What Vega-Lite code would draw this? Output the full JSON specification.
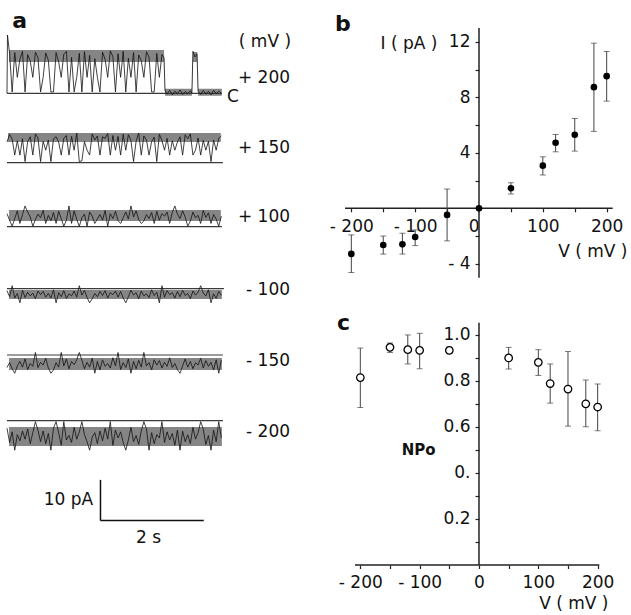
{
  "$schema": "https://vega.github.io/schema/vega-lite/v6.json",
  "padding": 0,
  "background": "white",
  "bounds": "flush",
  "spacing": 0,
  "config": {
    "font": "DejaVu Sans",
    "view": {"stroke": null},
    "concat": {"spacing": 0},
    "axis": {"labelFont": "DejaVu Sans", "titleFont": "DejaVu Sans", "labelFontSize": 17, "titleFontSize": 17, "titleFontWeight": "normal", "labelColor": "#111", "titleColor": "#111", "tickColor": "#222", "tickWidth": 1.2, "grid": false, "domain": false, "labelOverlap": false, "labelFlush": false, "tickCount": 30},
    "text": {"font": "DejaVu Sans", "fontSize": 17, "color": "#111"}
  },
  "datasets": {
    "base": [
      {"k": "+200", "t0": 0, "t1": 4.16, "y": -22.92},
      {"k": "+150", "t0": 0, "t1": 4.18, "y": -39.98},
      {"k": "+100", "t0": 0, "t1": 4.16, "y": -55.7},
      {"k": "-100", "t0": 0, "t1": 4.2, "y": -70.93},
      {"k": "-150", "t0": 0, "t1": 4.18, "y": -87.22},
      {"k": "-200", "t0": 0, "t1": 4.18, "y": -103.36}
    ],
    "band": [
      {"k": "+200", "t": 0.04, "top": -12.29, "bot": -15.23},
      {"k": "+200", "t": 3.04, "top": -12.29, "bot": -15.23},
      {"k": "+200", "t": 3.06, "top": -21.8, "bot": -23.5},
      {"k": "+200", "t": 3.58, "top": -21.8, "bot": -23.5},
      {"k": "+200", "t": 3.6, "top": -12.78, "bot": -15.23},
      {"k": "+200", "t": 3.68, "top": -12.78, "bot": -15.23},
      {"k": "+200", "t": 3.7, "top": -21.8, "bot": -23.5},
      {"k": "+200", "t": 4.16, "top": -21.8, "bot": -23.5},
      {"k": "+150", "t": 0.02, "top": -32.68, "bot": -34.89},
      {"k": "+150", "t": 4.14, "top": -32.68, "bot": -34.89},
      {"k": "+100", "t": 0.04, "top": -51.6, "bot": -54.3},
      {"k": "+100", "t": 4.14, "top": -51.6, "bot": -54.3},
      {"k": "-100", "t": 0.04, "top": -71.25, "bot": -73.46},
      {"k": "-100", "t": 4.16, "top": -71.25, "bot": -73.46},
      {"k": "-150", "t": 0.04, "top": -87.96, "bot": -90.91},
      {"k": "-150", "t": 4.16, "top": -87.96, "bot": -90.91},
      {"k": "-200", "t": 0.04, "top": -104.91, "bot": -109.58},
      {"k": "-200", "t": 4.16, "top": -104.91, "bot": -109.58}
    ],
    "trace": [
      {"k":"+200","t":0.00,"y":-22.9},{"k":"+200","t":0.01,"y":-8.6},{"k":"+200","t":0.05,"y":-13.2},{"k":"+200","t":0.10,"y":-22.6},{"k":"+200","t":0.15,"y":-12.9},{"k":"+200","t":0.20,"y":-19.0},{"k":"+200","t":0.25,"y":-14.5},{"k":"+200","t":0.30,"y":-12.6},{"k":"+200","t":0.35,"y":-22.6},{"k":"+200","t":0.40,"y":-13.4},{"k":"+200","t":0.45,"y":-15.0},{"k":"+200","t":0.50,"y":-19.0},{"k":"+200","t":0.55,"y":-12.8},{"k":"+200","t":0.60,"y":-14.2},{"k":"+200","t":0.65,"y":-22.6},{"k":"+200","t":0.70,"y":-19.0},{"k":"+200","t":0.75,"y":-13.0},{"k":"+200","t":0.80,"y":-14.8},{"k":"+200","t":0.85,"y":-22.6},{"k":"+200","t":0.90,"y":-22.6},{"k":"+200","t":0.95,"y":-12.9},{"k":"+200","t":1.00,"y":-15.2},{"k":"+200","t":1.05,"y":-19.0},{"k":"+200","t":1.10,"y":-13.3},{"k":"+200","t":1.15,"y":-12.6},{"k":"+200","t":1.20,"y":-22.6},{"k":"+200","t":1.25,"y":-14.1},{"k":"+200","t":1.30,"y":-22.6},{"k":"+200","t":1.35,"y":-19.0},{"k":"+200","t":1.40,"y":-13.1},{"k":"+200","t":1.45,"y":-22.6},{"k":"+200","t":1.50,"y":-12.7},{"k":"+200","t":1.55,"y":-19.0},{"k":"+200","t":1.60,"y":-13.6},{"k":"+200","t":1.65,"y":-22.6},{"k":"+200","t":1.70,"y":-14.4},{"k":"+200","t":1.75,"y":-19.0},{"k":"+200","t":1.80,"y":-22.6},{"k":"+200","t":1.85,"y":-12.8},{"k":"+200","t":1.90,"y":-14.6},{"k":"+200","t":1.95,"y":-19.0},{"k":"+200","t":2.00,"y":-12.5},{"k":"+200","t":2.05,"y":-13.9},{"k":"+200","t":2.10,"y":-22.6},{"k":"+200","t":2.15,"y":-13.2},{"k":"+200","t":2.20,"y":-19.0},{"k":"+200","t":2.25,"y":-12.6},{"k":"+200","t":2.30,"y":-22.6},{"k":"+200","t":2.35,"y":-14.3},{"k":"+200","t":2.40,"y":-19.0},{"k":"+200","t":2.45,"y":-12.9},{"k":"+200","t":2.50,"y":-22.6},{"k":"+200","t":2.55,"y":-13.5},{"k":"+200","t":2.60,"y":-14.9},{"k":"+200","t":2.65,"y":-19.0},{"k":"+200","t":2.70,"y":-12.7},{"k":"+200","t":2.75,"y":-14.0},{"k":"+200","t":2.80,"y":-22.6},{"k":"+200","t":2.85,"y":-22.6},{"k":"+200","t":2.90,"y":-13.1},{"k":"+200","t":2.95,"y":-19.0},{"k":"+200","t":3.00,"y":-13.4},{"k":"+200","t":3.04,"y":-14.2},{"k":"+200","t":3.06,"y":-22.3},{"k":"+200","t":3.10,"y":-23.1},{"k":"+200","t":3.15,"y":-22.2},{"k":"+200","t":3.20,"y":-23.3},{"k":"+200","t":3.25,"y":-22.4},{"k":"+200","t":3.30,"y":-23.0},{"k":"+200","t":3.35,"y":-22.1},{"k":"+200","t":3.40,"y":-23.2},{"k":"+200","t":3.45,"y":-22.5},{"k":"+200","t":3.50,"y":-23.0},{"k":"+200","t":3.55,"y":-22.3},{"k":"+200","t":3.58,"y":-22.9},{"k":"+200","t":3.60,"y":-12.6},{"k":"+200","t":3.64,"y":-14.0},{"k":"+200","t":3.68,"y":-13.2},{"k":"+200","t":3.70,"y":-22.4},{"k":"+200","t":3.75,"y":-23.2},{"k":"+200","t":3.80,"y":-22.2},{"k":"+200","t":3.85,"y":-23.1},{"k":"+200","t":3.90,"y":-22.4},{"k":"+200","t":3.95,"y":-23.3},{"k":"+200","t":4.00,"y":-22.2},{"k":"+200","t":4.05,"y":-23.0},{"k":"+200","t":4.10,"y":-22.4},{"k":"+200","t":4.15,"y":-22.9},
      {"k":"+150","t":0.00,"y":-34.9},{"k":"+150","t":0.05,"y":-33.0},{"k":"+150","t":0.10,"y":-34.2},{"k":"+150","t":0.15,"y":-38.1},{"k":"+150","t":0.20,"y":-34.6},{"k":"+150","t":0.25,"y":-38.1},{"k":"+150","t":0.30,"y":-34.1},{"k":"+150","t":0.35,"y":-39.7},{"k":"+150","t":0.40,"y":-34.8},{"k":"+150","t":0.45,"y":-33.6},{"k":"+150","t":0.50,"y":-38.1},{"k":"+150","t":0.55,"y":-32.9},{"k":"+150","t":0.60,"y":-33.9},{"k":"+150","t":0.65,"y":-39.7},{"k":"+150","t":0.70,"y":-34.7},{"k":"+150","t":0.75,"y":-36.9},{"k":"+150","t":0.80,"y":-34.4},{"k":"+150","t":0.85,"y":-39.7},{"k":"+150","t":0.90,"y":-34.1},{"k":"+150","t":0.95,"y":-33.6},{"k":"+150","t":1.00,"y":-34.9},{"k":"+150","t":1.05,"y":-38.1},{"k":"+150","t":1.10,"y":-34.0},{"k":"+150","t":1.15,"y":-33.3},{"k":"+150","t":1.20,"y":-38.1},{"k":"+150","t":1.25,"y":-33.5},{"k":"+150","t":1.30,"y":-36.9},{"k":"+150","t":1.35,"y":-32.7},{"k":"+150","t":1.40,"y":-39.7},{"k":"+150","t":1.45,"y":-39.5},{"k":"+150","t":1.50,"y":-34.8},{"k":"+150","t":1.55,"y":-36.9},{"k":"+150","t":1.60,"y":-38.1},{"k":"+150","t":1.65,"y":-32.9},{"k":"+150","t":1.70,"y":-34.4},{"k":"+150","t":1.75,"y":-33.4},{"k":"+150","t":1.80,"y":-38.1},{"k":"+150","t":1.85,"y":-33.6},{"k":"+150","t":1.90,"y":-34.0},{"k":"+150","t":1.95,"y":-32.8},{"k":"+150","t":2.00,"y":-38.1},{"k":"+150","t":2.05,"y":-33.3},{"k":"+150","t":2.10,"y":-36.9},{"k":"+150","t":2.15,"y":-33.5},{"k":"+150","t":2.20,"y":-38.1},{"k":"+150","t":2.25,"y":-33.0},{"k":"+150","t":2.30,"y":-36.9},{"k":"+150","t":2.35,"y":-33.1},{"k":"+150","t":2.40,"y":-34.5},{"k":"+150","t":2.45,"y":-39.7},{"k":"+150","t":2.50,"y":-34.7},{"k":"+150","t":2.55,"y":-32.7},{"k":"+150","t":2.60,"y":-38.1},{"k":"+150","t":2.65,"y":-33.4},{"k":"+150","t":2.70,"y":-34.4},{"k":"+150","t":2.75,"y":-38.1},{"k":"+150","t":2.80,"y":-34.8},{"k":"+150","t":2.85,"y":-33.7},{"k":"+150","t":2.90,"y":-39.7},{"k":"+150","t":2.95,"y":-33.0},{"k":"+150","t":3.00,"y":-34.5},{"k":"+150","t":3.05,"y":-36.9},{"k":"+150","t":3.10,"y":-34.0},{"k":"+150","t":3.15,"y":-38.1},{"k":"+150","t":3.20,"y":-34.6},{"k":"+150","t":3.25,"y":-36.9},{"k":"+150","t":3.30,"y":-34.9},{"k":"+150","t":3.35,"y":-33.6},{"k":"+150","t":3.40,"y":-38.1},{"k":"+150","t":3.45,"y":-33.1},{"k":"+150","t":3.50,"y":-34.1},{"k":"+150","t":3.55,"y":-32.9},{"k":"+150","t":3.60,"y":-38.1},{"k":"+150","t":3.65,"y":-36.9},{"k":"+150","t":3.70,"y":-33.9},{"k":"+150","t":3.75,"y":-38.1},{"k":"+150","t":3.80,"y":-34.5},{"k":"+150","t":3.85,"y":-36.9},{"k":"+150","t":3.90,"y":-34.7},{"k":"+150","t":3.95,"y":-39.7},{"k":"+150","t":4.00,"y":-34.4},{"k":"+150","t":4.05,"y":-36.9},{"k":"+150","t":4.10,"y":-34.0},{"k":"+150","t":4.15,"y":-33.4},
      {"k":"+100","t":0.00,"y":-52.5},{"k":"+100","t":0.05,"y":-54.1},{"k":"+100","t":0.10,"y":-55.6},{"k":"+100","t":0.15,"y":-53.7},{"k":"+100","t":0.20,"y":-51.8},{"k":"+100","t":0.25,"y":-54.9},{"k":"+100","t":0.30,"y":-52.7},{"k":"+100","t":0.35,"y":-50.6},{"k":"+100","t":0.40,"y":-52.1},{"k":"+100","t":0.45,"y":-53.3},{"k":"+100","t":0.50,"y":-55.6},{"k":"+100","t":0.55,"y":-53.9},{"k":"+100","t":0.60,"y":-52.6},{"k":"+100","t":0.65,"y":-53.5},{"k":"+100","t":0.70,"y":-51.7},{"k":"+100","t":0.75,"y":-54.9},{"k":"+100","t":0.80,"y":-52.9},{"k":"+100","t":0.85,"y":-54.2},{"k":"+100","t":0.90,"y":-52.2},{"k":"+100","t":0.95,"y":-54.9},{"k":"+100","t":1.00,"y":-51.9},{"k":"+100","t":1.05,"y":-53.7},{"k":"+100","t":1.10,"y":-55.6},{"k":"+100","t":1.15,"y":-54.1},{"k":"+100","t":1.20,"y":-50.6},{"k":"+100","t":1.25,"y":-54.9},{"k":"+100","t":1.30,"y":-51.8},{"k":"+100","t":1.35,"y":-53.9},{"k":"+100","t":1.40,"y":-55.6},{"k":"+100","t":1.45,"y":-53.5},{"k":"+100","t":1.50,"y":-52.6},{"k":"+100","t":1.55,"y":-55.6},{"k":"+100","t":1.60,"y":-52.1},{"k":"+100","t":1.65,"y":-53.1},{"k":"+100","t":1.70,"y":-54.9},{"k":"+100","t":1.75,"y":-53.8},{"k":"+100","t":1.80,"y":-52.7},{"k":"+100","t":1.85,"y":-54.1},{"k":"+100","t":1.90,"y":-51.7},{"k":"+100","t":1.95,"y":-55.6},{"k":"+100","t":2.00,"y":-52.5},{"k":"+100","t":2.05,"y":-53.7},{"k":"+100","t":2.10,"y":-51.9},{"k":"+100","t":2.15,"y":-54.2},{"k":"+100","t":2.20,"y":-54.9},{"k":"+100","t":2.25,"y":-53.5},{"k":"+100","t":2.30,"y":-52.1},{"k":"+100","t":2.35,"y":-53.8},{"k":"+100","t":2.40,"y":-50.6},{"k":"+100","t":2.45,"y":-53.3},{"k":"+100","t":2.50,"y":-51.8},{"k":"+100","t":2.55,"y":-53.9},{"k":"+100","t":2.60,"y":-54.9},{"k":"+100","t":2.65,"y":-54.3},{"k":"+100","t":2.70,"y":-52.7},{"k":"+100","t":2.75,"y":-53.7},{"k":"+100","t":2.80,"y":-52.2},{"k":"+100","t":2.85,"y":-54.9},{"k":"+100","t":2.90,"y":-51.9},{"k":"+100","t":2.95,"y":-54.1},{"k":"+100","t":3.00,"y":-52.5},{"k":"+100","t":3.05,"y":-53.1},{"k":"+100","t":3.10,"y":-52.1},{"k":"+100","t":3.15,"y":-54.9},{"k":"+100","t":3.20,"y":-52.2},{"k":"+100","t":3.25,"y":-50.6},{"k":"+100","t":3.30,"y":-52.6},{"k":"+100","t":3.35,"y":-53.7},{"k":"+100","t":3.40,"y":-51.8},{"k":"+100","t":3.45,"y":-53.3},{"k":"+100","t":3.50,"y":-55.6},{"k":"+100","t":3.55,"y":-54.3},{"k":"+100","t":3.60,"y":-52.1},{"k":"+100","t":3.65,"y":-53.5},{"k":"+100","t":3.70,"y":-52.9},{"k":"+100","t":3.75,"y":-54.9},{"k":"+100","t":3.80,"y":-51.7},{"k":"+100","t":3.85,"y":-53.4},{"k":"+100","t":3.90,"y":-52.3},{"k":"+100","t":3.95,"y":-54.9},{"k":"+100","t":4.00,"y":-52.7},{"k":"+100","t":4.05,"y":-53.8},{"k":"+100","t":4.10,"y":-55.6},{"k":"+100","t":4.15,"y":-53.1},
      {"k":"-100","t":0.00,"y":-71.4},{"k":"-100","t":0.05,"y":-72.9},{"k":"-100","t":0.10,"y":-70.2},{"k":"-100","t":0.15,"y":-73.2},{"k":"-100","t":0.20,"y":-72.1},{"k":"-100","t":0.25,"y":-74.4},{"k":"-100","t":0.30,"y":-71.3},{"k":"-100","t":0.35,"y":-73.1},{"k":"-100","t":0.40,"y":-71.8},{"k":"-100","t":0.45,"y":-72.7},{"k":"-100","t":0.50,"y":-72.0},{"k":"-100","t":0.55,"y":-73.4},{"k":"-100","t":0.60,"y":-71.5},{"k":"-100","t":0.65,"y":-72.4},{"k":"-100","t":0.70,"y":-71.6},{"k":"-100","t":0.75,"y":-73.0},{"k":"-100","t":0.80,"y":-72.1},{"k":"-100","t":0.85,"y":-73.2},{"k":"-100","t":0.90,"y":-71.2},{"k":"-100","t":0.95,"y":-74.4},{"k":"-100","t":1.00,"y":-71.9},{"k":"-100","t":1.05,"y":-72.9},{"k":"-100","t":1.10,"y":-71.4},{"k":"-100","t":1.15,"y":-73.3},{"k":"-100","t":1.20,"y":-72.2},{"k":"-100","t":1.25,"y":-72.7},{"k":"-100","t":1.30,"y":-71.5},{"k":"-100","t":1.35,"y":-73.0},{"k":"-100","t":1.40,"y":-70.2},{"k":"-100","t":1.45,"y":-72.5},{"k":"-100","t":1.50,"y":-71.3},{"k":"-100","t":1.55,"y":-73.1},{"k":"-100","t":1.60,"y":-74.4},{"k":"-100","t":1.65,"y":-73.4},{"k":"-100","t":1.70,"y":-72.1},{"k":"-100","t":1.75,"y":-72.9},{"k":"-100","t":1.80,"y":-71.6},{"k":"-100","t":1.85,"y":-72.6},{"k":"-100","t":1.90,"y":-71.4},{"k":"-100","t":1.95,"y":-73.2},{"k":"-100","t":2.00,"y":-71.9},{"k":"-100","t":2.05,"y":-72.4},{"k":"-100","t":2.10,"y":-71.5},{"k":"-100","t":2.15,"y":-73.0},{"k":"-100","t":2.20,"y":-71.6},{"k":"-100","t":2.25,"y":-73.2},{"k":"-100","t":2.30,"y":-74.4},{"k":"-100","t":2.35,"y":-72.9},{"k":"-100","t":2.40,"y":-71.3},{"k":"-100","t":2.45,"y":-72.5},{"k":"-100","t":2.50,"y":-71.9},{"k":"-100","t":2.55,"y":-73.4},{"k":"-100","t":2.60,"y":-71.5},{"k":"-100","t":2.65,"y":-72.7},{"k":"-100","t":2.70,"y":-72.2},{"k":"-100","t":2.75,"y":-73.1},{"k":"-100","t":2.80,"y":-71.2},{"k":"-100","t":2.85,"y":-72.6},{"k":"-100","t":2.90,"y":-71.8},{"k":"-100","t":2.95,"y":-74.4},{"k":"-100","t":3.00,"y":-70.2},{"k":"-100","t":3.05,"y":-73.0},{"k":"-100","t":3.10,"y":-71.4},{"k":"-100","t":3.15,"y":-72.4},{"k":"-100","t":3.20,"y":-71.9},{"k":"-100","t":3.25,"y":-73.2},{"k":"-100","t":3.30,"y":-71.6},{"k":"-100","t":3.35,"y":-72.9},{"k":"-100","t":3.40,"y":-71.3},{"k":"-100","t":3.45,"y":-72.6},{"k":"-100","t":3.50,"y":-72.1},{"k":"-100","t":3.55,"y":-73.4},{"k":"-100","t":3.60,"y":-71.5},{"k":"-100","t":3.65,"y":-72.5},{"k":"-100","t":3.70,"y":-71.8},{"k":"-100","t":3.75,"y":-70.2},{"k":"-100","t":3.80,"y":-72.0},{"k":"-100","t":3.85,"y":-72.7},{"k":"-100","t":3.90,"y":-71.2},{"k":"-100","t":3.95,"y":-74.4},{"k":"-100","t":4.00,"y":-72.2},{"k":"-100","t":4.05,"y":-73.3},{"k":"-100","t":4.10,"y":-71.6},{"k":"-100","t":4.15,"y":-72.6},
      {"k":"-150","t":0.00,"y":-90.3},{"k":"-150","t":0.05,"y":-89.1},{"k":"-150","t":0.10,"y":-90.6},{"k":"-150","t":0.15,"y":-91.7},{"k":"-150","t":0.20,"y":-89.9},{"k":"-150","t":0.25,"y":-88.8},{"k":"-150","t":0.30,"y":-90.2},{"k":"-150","t":0.35,"y":-88.2},{"k":"-150","t":0.40,"y":-90.8},{"k":"-150","t":0.45,"y":-89.3},{"k":"-150","t":0.50,"y":-90.0},{"k":"-150","t":0.55,"y":-86.6},{"k":"-150","t":0.60,"y":-90.3},{"k":"-150","t":0.65,"y":-89.0},{"k":"-150","t":0.70,"y":-89.7},{"k":"-150","t":0.75,"y":-88.0},{"k":"-150","t":0.80,"y":-90.4},{"k":"-150","t":0.85,"y":-91.7},{"k":"-150","t":0.90,"y":-90.9},{"k":"-150","t":0.95,"y":-89.1},{"k":"-150","t":1.00,"y":-90.2},{"k":"-150","t":1.05,"y":-86.6},{"k":"-150","t":1.10,"y":-89.9},{"k":"-150","t":1.15,"y":-88.2},{"k":"-150","t":1.20,"y":-90.6},{"k":"-150","t":1.25,"y":-88.8},{"k":"-150","t":1.30,"y":-89.6},{"k":"-150","t":1.35,"y":-88.4},{"k":"-150","t":1.40,"y":-86.6},{"k":"-150","t":1.45,"y":-88.5},{"k":"-150","t":1.50,"y":-90.6},{"k":"-150","t":1.55,"y":-89.0},{"k":"-150","t":1.60,"y":-90.2},{"k":"-150","t":1.65,"y":-88.0},{"k":"-150","t":1.70,"y":-91.7},{"k":"-150","t":1.75,"y":-88.8},{"k":"-150","t":1.80,"y":-90.9},{"k":"-150","t":1.85,"y":-88.4},{"k":"-150","t":1.90,"y":-90.0},{"k":"-150","t":1.95,"y":-89.3},{"k":"-150","t":2.00,"y":-90.4},{"k":"-150","t":2.05,"y":-87.9},{"k":"-150","t":2.10,"y":-89.9},{"k":"-150","t":2.15,"y":-86.6},{"k":"-150","t":2.20,"y":-90.8},{"k":"-150","t":2.25,"y":-89.1},{"k":"-150","t":2.30,"y":-90.3},{"k":"-150","t":2.35,"y":-88.2},{"k":"-150","t":2.40,"y":-91.7},{"k":"-150","t":2.45,"y":-88.8},{"k":"-150","t":2.50,"y":-90.6},{"k":"-150","t":2.55,"y":-88.5},{"k":"-150","t":2.60,"y":-90.2},{"k":"-150","t":2.65,"y":-86.6},{"k":"-150","t":2.70,"y":-89.9},{"k":"-150","t":2.75,"y":-89.1},{"k":"-150","t":2.80,"y":-90.9},{"k":"-150","t":2.85,"y":-88.4},{"k":"-150","t":2.90,"y":-89.7},{"k":"-150","t":2.95,"y":-88.6},{"k":"-150","t":3.00,"y":-90.4},{"k":"-150","t":3.05,"y":-89.0},{"k":"-150","t":3.10,"y":-90.0},{"k":"-150","t":3.15,"y":-87.9},{"k":"-150","t":3.20,"y":-90.3},{"k":"-150","t":3.25,"y":-89.3},{"k":"-150","t":3.30,"y":-90.8},{"k":"-150","t":3.35,"y":-91.7},{"k":"-150","t":3.40,"y":-89.9},{"k":"-150","t":3.45,"y":-88.2},{"k":"-150","t":3.50,"y":-90.2},{"k":"-150","t":3.55,"y":-88.8},{"k":"-150","t":3.60,"y":-90.6},{"k":"-150","t":3.65,"y":-89.1},{"k":"-150","t":3.70,"y":-89.7},{"k":"-150","t":3.75,"y":-88.0},{"k":"-150","t":3.80,"y":-90.4},{"k":"-150","t":3.85,"y":-88.6},{"k":"-150","t":3.90,"y":-90.0},{"k":"-150","t":3.95,"y":-89.0},{"k":"-150","t":4.00,"y":-90.9},{"k":"-150","t":4.05,"y":-88.4},{"k":"-150","t":4.10,"y":-91.7},{"k":"-150","t":4.15,"y":-88.5},
      {"k":"-200","t":0.00,"y":-105.2},{"k":"-200","t":0.05,"y":-108.7},{"k":"-200","t":0.10,"y":-106.1},{"k":"-200","t":0.15,"y":-110.6},{"k":"-200","t":0.20,"y":-106.8},{"k":"-200","t":0.25,"y":-108.3},{"k":"-200","t":0.30,"y":-105.9},{"k":"-200","t":0.35,"y":-107.9},{"k":"-200","t":0.40,"y":-105.4},{"k":"-200","t":0.45,"y":-109.0},{"k":"-200","t":0.50,"y":-106.3},{"k":"-200","t":0.55,"y":-103.6},{"k":"-200","t":0.60,"y":-105.7},{"k":"-200","t":0.65,"y":-108.5},{"k":"-200","t":0.70,"y":-105.9},{"k":"-200","t":0.75,"y":-109.0},{"k":"-200","t":0.80,"y":-106.5},{"k":"-200","t":0.85,"y":-110.6},{"k":"-200","t":0.90,"y":-105.2},{"k":"-200","t":0.95,"y":-103.6},{"k":"-200","t":1.00,"y":-106.3},{"k":"-200","t":1.05,"y":-109.4},{"k":"-200","t":1.10,"y":-103.6},{"k":"-200","t":1.15,"y":-108.1},{"k":"-200","t":1.20,"y":-107.0},{"k":"-200","t":1.25,"y":-108.7},{"k":"-200","t":1.30,"y":-105.0},{"k":"-200","t":1.35,"y":-107.9},{"k":"-200","t":1.40,"y":-106.1},{"k":"-200","t":1.45,"y":-103.6},{"k":"-200","t":1.50,"y":-106.8},{"k":"-200","t":1.55,"y":-108.5},{"k":"-200","t":1.60,"y":-110.6},{"k":"-200","t":1.65,"y":-107.4},{"k":"-200","t":1.70,"y":-106.3},{"k":"-200","t":1.75,"y":-109.0},{"k":"-200","t":1.80,"y":-105.9},{"k":"-200","t":1.85,"y":-108.3},{"k":"-200","t":1.90,"y":-105.2},{"k":"-200","t":1.95,"y":-107.9},{"k":"-200","t":2.00,"y":-103.6},{"k":"-200","t":2.05,"y":-109.4},{"k":"-200","t":2.10,"y":-105.7},{"k":"-200","t":2.15,"y":-107.6},{"k":"-200","t":2.20,"y":-106.1},{"k":"-200","t":2.25,"y":-108.7},{"k":"-200","t":2.30,"y":-110.6},{"k":"-200","t":2.35,"y":-108.1},{"k":"-200","t":2.40,"y":-105.0},{"k":"-200","t":2.45,"y":-108.5},{"k":"-200","t":2.50,"y":-107.0},{"k":"-200","t":2.55,"y":-109.2},{"k":"-200","t":2.60,"y":-105.9},{"k":"-200","t":2.65,"y":-103.6},{"k":"-200","t":2.70,"y":-105.4},{"k":"-200","t":2.75,"y":-110.6},{"k":"-200","t":2.80,"y":-106.3},{"k":"-200","t":2.85,"y":-109.0},{"k":"-200","t":2.90,"y":-106.8},{"k":"-200","t":2.95,"y":-107.6},{"k":"-200","t":3.00,"y":-103.6},{"k":"-200","t":3.05,"y":-108.7},{"k":"-200","t":3.10,"y":-106.1},{"k":"-200","t":3.15,"y":-108.1},{"k":"-200","t":3.20,"y":-106.5},{"k":"-200","t":3.25,"y":-109.4},{"k":"-200","t":3.30,"y":-105.7},{"k":"-200","t":3.35,"y":-110.6},{"k":"-200","t":3.40,"y":-105.9},{"k":"-200","t":3.45,"y":-108.5},{"k":"-200","t":3.50,"y":-106.8},{"k":"-200","t":3.55,"y":-109.0},{"k":"-200","t":3.60,"y":-105.0},{"k":"-200","t":3.65,"y":-107.9},{"k":"-200","t":3.70,"y":-106.3},{"k":"-200","t":3.75,"y":-103.6},{"k":"-200","t":3.80,"y":-105.4},{"k":"-200","t":3.85,"y":-109.2},{"k":"-200","t":3.90,"y":-107.0},{"k":"-200","t":3.95,"y":-110.6},{"k":"-200","t":4.00,"y":-105.7},{"k":"-200","t":4.05,"y":-108.5},{"k":"-200","t":4.10,"y":-103.6},{"k":"-200","t":4.15,"y":-107.6}
    ],
    "vlabels": [
      {"text": "( mV )", "t": 5.5, "y": -10.3},
      {"text": "+ 200", "t": 5.48, "y": -19.2},
      {"text": "+ 150", "t": 5.48, "y": -36.4},
      {"text": "+ 100", "t": 5.48, "y": -53.3},
      {"text": "- 100", "t": 5.48, "y": -71.3},
      {"text": "- 150", "t": 5.48, "y": -88.7},
      {"text": "- 200", "t": 5.48, "y": -106.1}
    ],
    "scalebar": [
      {"t": 1.81, "t2": 1.81, "y": -117.9, "y2": -127.9},
      {"t": 1.81, "t2": 3.81, "y": -127.9, "y2": -127.9}
    ],
    "iv": [
      {"V": -200, "I": -3.29, "lo": -4.63, "hi": -1.92},
      {"V": -150, "I": -2.65, "lo": -3.3, "hi": -2.0},
      {"V": -120, "I": -2.6, "lo": -3.3, "hi": -1.8},
      {"V": -100, "I": -2.07, "lo": -2.69, "hi": -1.56},
      {"V": -50, "I": -0.48, "lo": -2.35, "hi": 1.39},
      {"V": 0, "I": 0, "lo": 0, "hi": 0},
      {"V": 50, "I": 1.44, "lo": 1.03, "hi": 1.84},
      {"V": 100, "I": 3.07, "lo": 2.4, "hi": 3.71},
      {"V": 120, "I": 4.72, "lo": 4.07, "hi": 5.32},
      {"V": 150, "I": 5.3, "lo": 4.12, "hi": 6.47},
      {"V": 180, "I": 8.73, "lo": 5.54, "hi": 11.9},
      {"V": 200, "I": 9.52, "lo": 7.72, "hi": 11.3}
    ],
    "npo": [
      {"V": -200, "P": 0.814, "lo": 0.684, "hi": 0.942},
      {"V": -150, "P": 0.945, "lo": 0.923, "hi": 0.964},
      {"V": -120, "P": 0.935, "lo": 0.873, "hi": 0.999},
      {"V": -100, "P": 0.932, "lo": 0.852, "hi": 1.006},
      {"V": -50, "P": 0.932, "lo": 0.918, "hi": 0.946},
      {"V": 50, "P": 0.899, "lo": 0.851, "hi": 0.945},
      {"V": 100, "P": 0.88, "lo": 0.823, "hi": 0.935},
      {"V": 120, "P": 0.788, "lo": 0.703, "hi": 0.873},
      {"V": 150, "P": 0.764, "lo": 0.603, "hi": 0.927},
      {"V": 180, "P": 0.7, "lo": 0.6, "hi": 0.803},
      {"V": 200, "P": 0.686, "lo": 0.583, "hi": 0.786}
    ]
  },
  "hconcat": [
    {
      "width": 330,
      "height": 615,
      "layer": [
        {
          "data": {"name": "band"},
          "mark": {"type": "area", "color": "#858585", "opacity": 1},
          "encoding": {
            "x": {"field": "t", "type": "quantitative", "scale": {"domain": [-0.1355, 6.254], "nice": false, "zero": false}, "axis": null},
            "y": {"field": "top", "type": "quantitative", "scale": {"domain": [-151.1, 0], "nice": false, "zero": false}, "axis": null},
            "y2": {"field": "bot"},
            "detail": {"field": "k", "type": "nominal"}
          }
        },
        {
          "data": {"name": "base"},
          "mark": {"type": "rule", "color": "#3a3a3a", "strokeWidth": 1.2},
          "encoding": {
            "x": {"field": "t0", "type": "quantitative", "axis": null},
            "x2": {"field": "t1"},
            "y": {"field": "y", "type": "quantitative", "axis": null}
          }
        },
        {
          "data": {"name": "trace"},
          "mark": {"type": "line", "color": "#111", "strokeWidth": 0.8},
          "encoding": {
            "x": {"field": "t", "type": "quantitative", "axis": null},
            "y": {"field": "y", "type": "quantitative", "axis": null},
            "detail": {"field": "k", "type": "nominal"}
          }
        },
        {
          "data": {"name": "scalebar"},
          "mark": {"type": "rule", "color": "#111", "strokeWidth": 1.5},
          "encoding": {
            "x": {"field": "t", "type": "quantitative", "axis": null},
            "x2": {"field": "t2"},
            "y": {"field": "y", "type": "quantitative", "axis": null},
            "y2": {"field": "y2"}
          }
        },
        {
          "data": {"name": "vlabels"},
          "mark": {"type": "text", "align": "right", "baseline": "middle", "fontSize": 17},
          "encoding": {
            "x": {"field": "t", "type": "quantitative", "axis": null},
            "y": {"field": "y", "type": "quantitative", "axis": null},
            "text": {"field": "text"}
          }
        },
        {
          "data": {"values": [{}]},
          "mark": {"type": "text", "text": "C", "align": "left", "baseline": "middle", "fontSize": 17},
          "encoding": {"x": {"datum": 4.26}, "y": {"datum": -23.8}}
        },
        {
          "data": {"values": [{}]},
          "mark": {"type": "text", "text": "10 pA", "align": "right", "baseline": "middle", "fontSize": 17},
          "encoding": {"x": {"datum": 1.67}, "y": {"datum": -122.9}}
        },
        {
          "data": {"values": [{}]},
          "mark": {"type": "text", "text": "2 s", "align": "center", "baseline": "middle", "fontSize": 17},
          "encoding": {"x": {"datum": 2.74}, "y": {"datum": -132.2}}
        },
        {
          "data": {"values": [{}]},
          "mark": {"type": "text", "text": "a", "align": "left", "baseline": "alphabetic", "fontSize": 22, "fontWeight": "bold"},
          "encoding": {"x": {"datum": 0.1}, "y": {"datum": -6.88}}
        }
      ]
    },
    {
      "bounds": "flush",
      "spacing": 0,
      "vconcat": [
        {
          "width": 301,
          "height": 300,
          "layer": [
            {
              "data": {"values": [{}]},
              "mark": {"type": "rule", "color": "#222", "strokeWidth": 1.5},
              "encoding": {"x": {"datum": -209.9}, "x2": {"datum": 209.4}, "y": {"datum": 0}}
            },
            {
              "data": {"values": [{}]},
              "mark": {"type": "rule", "color": "#222", "strokeWidth": 1.5},
              "encoding": {"x": {"datum": 0}, "y": {"datum": -5}, "y2": {"datum": 13}}
            },
            {
              "data": {"name": "iv"},
              "mark": {"type": "errorbar", "ticks": true, "size": 6, "thickness": 1, "color": "#444"},
              "encoding": {
                "x": {"field": "V", "type": "quantitative", "title": "V ( mV )"},
                "y": {"field": "lo", "type": "quantitative", "title": "I ( pA )"},
                "y2": {"field": "hi"}
              }
            },
            {
              "data": {"name": "iv"},
              "mark": {"type": "circle", "color": "#000", "size": 44, "opacity": 1},
              "encoding": {
                "x": {
                  "field": "V", "type": "quantitative",
                  "scale": {"domain": [-233.4, 238.1], "nice": false, "zero": false},
                  "axis": {
                    "offset": -91.7,
                    "values": [-200, -150, -100, -50, 0, 50, 100, 150, 200],
                    "tickCount": 30,
                    "labelExpr": "datum.value % 100 == 0 ? (datum.value < 0 ? '- ' + (-datum.value) : '' + datum.value) : ''",
                    "labelAlign": {"condition": {"test": "datum.value == 0", "value": "right"}, "value": "center"},
                    "tickSize": 3.5,
                    "labelPadding": 7,
                    "title": "V ( mV )",
                    "titleX": 297,
                    "titleY": 43,
                    "titleAlign": "right",
                    "titleBaseline": "middle"
                  }
                },
                "y": {
                  "field": "I", "type": "quantitative",
                  "scale": {"domain": [-6.61, 15.01], "nice": false, "zero": false},
                  "axis": {
                    "offset": -149,
                    "values": [-4, -2, 2, 4, 6, 8, 10, 12],
                    "tickCount": 30,
                    "labelExpr": "datum.value % 4 == 0 ? (datum.value < 0 ? '- ' + (-datum.value) : '' + datum.value) : ''",
                    "tickSize": 4,
                    "labelPadding": 5,
                    "title": "I ( pA )",
                    "titleAngle": 0,
                    "titleX": -42,
                    "titleY": 43,
                    "titleAlign": "right",
                    "titleBaseline": "middle"
                  }
                }
              }
            },
            {
              "data": {"values": [{}]},
              "mark": {"type": "text", "text": "b", "align": "left", "baseline": "alphabetic", "fontSize": 22, "fontWeight": "bold"},
              "encoding": {"x": {"datum": -225.5}, "y": {"datum": 12.78}}
            }
          ]
        },
        {
          "width": 301,
          "height": 315,
          "layer": [
            {
              "data": {"values": [{}]},
              "mark": {"type": "rule", "color": "#222", "strokeWidth": 1.5},
              "encoding": {"x": {"datum": -209}, "x2": {"datum": 202.8}, "y": {"datum": 0}}
            },
            {
              "data": {"values": [{}]},
              "mark": {"type": "rule", "color": "#222", "strokeWidth": 1.5},
              "encoding": {"x": {"datum": 0}, "y": {"datum": 0}, "y2": {"datum": 1.052}}
            },
            {
              "data": {"name": "npo"},
              "mark": {"type": "errorbar", "ticks": true, "size": 6, "thickness": 1, "color": "#444"},
              "encoding": {
                "x": {"field": "V", "type": "quantitative", "title": "V ( mV )"},
                "y": {"field": "lo", "type": "quantitative", "title": "NPo"},
                "y2": {"field": "hi"}
              }
            },
            {
              "data": {"name": "npo"},
              "mark": {"type": "point", "shape": "circle", "filled": true, "fill": "white", "stroke": "#000", "strokeWidth": 1.3, "size": 56, "opacity": 1},
              "encoding": {
                "x": {
                  "field": "V", "type": "quantitative",
                  "scale": {"domain": [-251.1, 256.2], "nice": false, "zero": false},
                  "axis": {
                    "offset": -50,
                    "values": [-200, -150, -100, -50, 0, 50, 100, 150, 200],
                    "tickCount": 30,
                    "labelExpr": "datum.value % 100 == 0 ? (datum.value < 0 ? '- ' + (-datum.value) : '' + datum.value) : ''",
                    "tickSize": 3.5,
                    "labelPadding": 6,
                    "title": "V ( mV )",
                    "titleX": 278,
                    "titleY": 38,
                    "titleAlign": "right",
                    "titleBaseline": "middle"
                  }
                },
                "y": {
                  "field": "P", "type": "quantitative",
                  "scale": {"domain": [-0.2171, 1.1507], "nice": false, "zero": false},
                  "axis": {
                    "offset": -149,
                    "values": [0.1, 0.2, 0.3, 0.4, 0.5, 0.6, 0.7, 0.8, 0.9, 1.0],
                    "tickCount": 30,
                    "labelExpr": "round(datum.value * 10) == 10 ? '1.0' : (round(datum.value * 10) == 4 ? '0.' : (round(datum.value * 10) % 2 == 0 ? '0.' + round(datum.value * 10) : ''))",
                    "tickSize": 4,
                    "labelPadding": 5,
                    "title": "NPo",
                    "titleAngle": 0,
                    "titleX": -44,
                    "titleY": 149,
                    "titleAlign": "right",
                    "titleBaseline": "middle",
                    "titleFontSize": 15,
                    "titleFontWeight": "bold"
                  }
                }
              }
            },
            {
              "data": {"values": [{}]},
              "mark": {"type": "text", "text": "c", "align": "left", "baseline": "alphabetic", "fontSize": 22, "fontWeight": "bold"},
              "encoding": {"x": {"datum": -239.3}, "y": {"datum": 1.02}}
            }
          ]
        }
      ]
    }
  ]
}
